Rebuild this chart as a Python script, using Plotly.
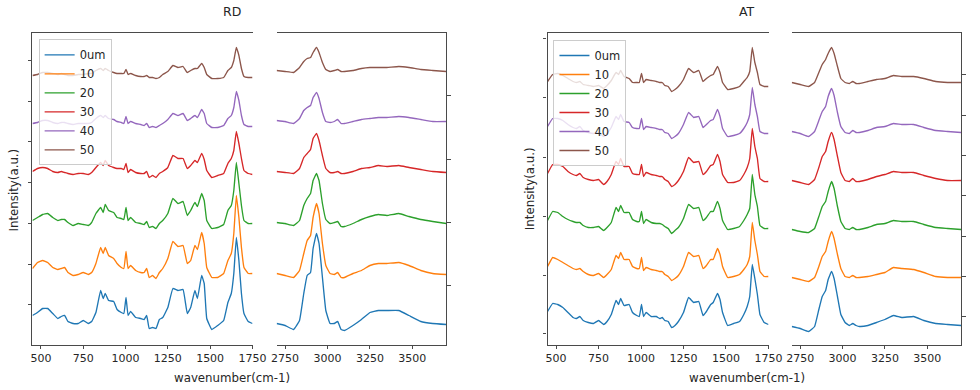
import plotly.graph_objects as go

# ---------------- data ----------------
labels = ["0um", "10", "20", "30", "40", "50"]
colors = ["#1f77b4", "#ff7f0e", "#2ca02c", "#d62728", "#9467bd", "#8c564b"]

# fingerprint region (cm-1)
wn_fp = [450, 480, 510, 540, 570, 600, 620, 640, 660, 690,
         720, 750, 780, 800, 825, 853, 868, 880, 900, 930,
         950, 975, 990, 1003, 1015, 1030, 1060, 1090, 1110, 1125,
         1140, 1160, 1180, 1200, 1220, 1250, 1280, 1310, 1340, 1365,
         1385, 1410, 1425, 1450, 1465, 1480, 1510, 1545, 1580, 1605,
         1625, 1640, 1655, 1670, 1685, 1700, 1725, 1750]
# high wavenumber region (cm-1)
wn_ch = [2700, 2750, 2800, 2835, 2860, 2880, 2900, 2915, 2935, 2950,
         2970, 2990, 3015, 3040, 3060, 3080, 3100, 3150, 3200, 3250,
         3300, 3350, 3420, 3480, 3550, 3620, 3700]

# RD, stacked intensities (a.u.)
rd_fp_0 = [29, 32, 36, 36, 31, 26, 28, 29, 23, 21, 21, 24, 21, 23, 32, 54, 46, 51, 44, 43,
           35, 32, 31, 47, 29, 33, 27, 26, 25, 29, 16, 17, 16, 25, 27, 37, 56, 54, 55, 31,
           37, 54, 46, 69, 61, 26, 15, 19, 24, 42, 51, 71, 107, 84, 51, 31, 23, 21]
rd_fp_10 = [76, 82, 84, 82, 77, 75, 76, 77, 72, 69, 70, 72, 70, 72, 81, 97, 91, 97, 89, 86,
            81, 77, 76, 93, 76, 79, 74, 72, 72, 76, 67, 69, 66, 72, 76, 86, 103, 98, 99, 81,
            84, 99, 95, 112, 101, 77, 67, 67, 71, 84, 91, 111, 149, 127, 97, 77, 71, 71]
rd_fp_20 = [124, 127, 130, 131, 127, 124, 125, 125, 122, 119, 121, 120, 119, 122, 131, 137, 132, 140, 134, 132,
            127, 126, 125, 137, 124, 127, 122, 121, 120, 123, 117, 118, 116, 121, 124, 131, 146, 141, 143, 129,
            134, 142, 138, 151, 144, 124, 116, 117, 120, 134, 139, 154, 182, 161, 139, 124, 121, 121]
rd_fp_30 = [173, 176, 177, 176, 173, 172, 173, 172, 171, 170, 171, 171, 170, 172, 177, 182, 179, 184, 179, 177,
            176, 176, 175, 181, 172, 175, 172, 171, 171, 173, 167, 169, 167, 171, 173, 177, 189, 186, 186, 176,
            179, 184, 182, 191, 185, 174, 167, 169, 171, 181, 186, 194, 213, 201, 186, 174, 171, 170]
rd_fp_40 = [221, 222, 224, 224, 222, 221, 222, 222, 221, 220, 221, 221, 221, 222, 226, 229, 227, 229, 226, 225,
            223, 222, 221, 228, 221, 223, 221, 220, 219, 221, 217, 218, 217, 219, 221, 225, 231, 229, 231, 224,
            226, 229, 227, 235, 231, 221, 217, 217, 219, 226, 229, 237, 253, 244, 229, 220, 218, 218]
rd_fp_50 = [269, 270, 272, 272, 271, 270, 271, 270, 269, 269, 270, 270, 271, 271, 274, 276, 274, 276, 274, 272,
            271, 271, 271, 275, 270, 271, 269, 268, 268, 269, 267, 267, 266, 267, 270, 273, 279, 277, 278, 272,
            274, 276, 276, 281, 277, 270, 266, 266, 267, 274, 277, 284, 297, 289, 276, 268, 267, 267]

rd_ch_0 = [21, 19, 15, 24, 51, 69, 72, 96, 111, 101, 67, 34, 21, 21, 23, 15, 14, 19, 25, 32,
           34, 34, 34, 29, 23, 21, 20]
rd_ch_10 = [71, 69, 67, 74, 91, 104, 109, 127, 141, 131, 101, 79, 71, 70, 72, 67, 67, 71, 74, 79,
            81, 81, 82, 79, 74, 71, 70]
rd_ch_20 = [122, 121, 119, 124, 139, 146, 151, 164, 171, 164, 141, 125, 121, 122, 123, 118, 118, 121, 125, 128,
            130, 129, 131, 128, 125, 123, 121]
rd_ch_30 = [173, 172, 171, 176, 187, 191, 195, 206, 211, 204, 189, 176, 172, 172, 173, 171, 171, 173, 176, 177,
            179, 178, 179, 177, 175, 173, 172]
rd_ch_40 = [224, 223, 221, 226, 234, 237, 239, 247, 252, 246, 232, 223, 222, 223, 225, 221, 221, 223, 225, 226,
            227, 227, 228, 227, 225, 223, 223]
rd_ch_50 = [274, 273, 272, 277, 283, 286, 287, 292, 297, 292, 282, 275, 273, 274, 275, 273, 273, 274, 276, 277,
            277, 277, 278, 277, 275, 274, 273]

# AT, stacked intensities (a.u.)
at_fp_0 = [33, 41, 40, 37, 32, 27, 26, 28, 24, 22, 21, 24, 20, 23, 30, 44, 40, 46, 39, 40,
           32, 29, 28, 40, 28, 32, 28, 28, 26, 27, 24, 23, 17, 19, 23, 32, 47, 42, 43, 29,
           33, 40, 42, 51, 45, 32, 19, 21, 23, 30, 38, 48, 80, 66, 50, 30, 22, 20]
at_fp_10 = [78, 87, 85, 82, 79, 76, 75, 76, 73, 70, 69, 71, 67, 70, 75, 89, 86, 92, 85, 85,
            78, 76, 76, 87, 74, 77, 75, 74, 73, 73, 70, 68, 64, 66, 69, 78, 92, 88, 89, 76,
            79, 85, 85, 96, 90, 78, 67, 68, 70, 75, 80, 88, 122, 104, 90, 73, 68, 68]
at_fp_20 = [124, 133, 132, 128, 125, 123, 122, 122, 119, 117, 117, 118, 114, 117, 122, 137, 133, 139, 132, 132,
            125, 123, 123, 133, 121, 125, 122, 121, 121, 120, 118, 116, 111, 114, 117, 126, 140, 136, 137, 124,
            127, 133, 133, 143, 136, 124, 115, 116, 118, 124, 130, 136, 170, 150, 138, 119, 116, 116]
at_fp_30 = [171, 180, 180, 178, 173, 170, 169, 171, 167, 165, 164, 165, 160, 163, 170, 183, 180, 186, 178, 178,
            171, 170, 170, 180, 168, 172, 170, 169, 168, 168, 165, 163, 158, 160, 164, 173, 187, 182, 183, 170,
            173, 179, 180, 190, 183, 170, 162, 162, 164, 170, 177, 186, 216, 198, 186, 166, 163, 163]
at_fp_40 = [218, 226, 226, 224, 220, 217, 216, 218, 214, 212, 211, 212, 208, 211, 217, 228, 225, 230, 223, 222,
            217, 216, 216, 226, 215, 218, 217, 216, 215, 215, 212, 211, 206, 208, 211, 220, 232, 227, 228, 217,
            220, 224, 225, 235, 228, 216, 208, 209, 211, 216, 222, 230, 257, 240, 228, 213, 211, 211]
at_fp_50 = [263, 270, 271, 269, 266, 263, 262, 263, 260, 259, 258, 259, 256, 259, 264, 272, 270, 274, 268, 266,
            262, 262, 262, 271, 262, 265, 264, 263, 262, 262, 259, 258, 253, 255, 258, 265, 276, 272, 274, 263,
            266, 269, 270, 278, 272, 262, 255, 256, 258, 263, 267, 273, 297, 282, 272, 260, 258, 258]

at_ch_0 = [18, 16, 13, 18, 35, 48, 54, 65, 73, 66, 48, 30, 22, 19, 21, 19, 18, 19, 22, 25,
           29, 27, 28, 24, 21, 20, 19]
at_ch_10 = [67, 65, 63, 67, 78, 88, 93, 103, 113, 106, 90, 76, 68, 67, 69, 67, 67, 68, 70, 72,
            77, 76, 75, 72, 68, 67, 67]
at_ch_20 = [115, 113, 112, 116, 128, 138, 143, 153, 163, 156, 138, 123, 116, 115, 117, 115, 115, 117, 120, 121,
            124, 123, 123, 120, 117, 116, 115]
at_ch_30 = [164, 162, 160, 165, 177, 188, 193, 203, 212, 205, 188, 172, 164, 163, 166, 163, 163, 165, 168, 170,
            173, 172, 172, 169, 166, 164, 164]
at_ch_40 = [213, 211, 208, 213, 224, 233, 238, 248, 256, 249, 232, 218, 212, 211, 214, 212, 212, 214, 217, 218,
            221, 220, 220, 217, 214, 213, 212]
at_ch_50 = [262, 260, 258, 262, 272, 280, 285, 291, 297, 291, 278, 266, 262, 261, 263, 261, 261, 263, 265, 266,
            269, 268, 268, 266, 263, 262, 262]

# tick marks (unlabelled, as in the original)
x_ticks_fp = [500, 750, 1000, 1250, 1500, 1750]
x_ticks_ch = [2750, 3000, 3250, 3500]
rd_fp_yticks = [39.7, 80.3, 121, 161.7, 202.7, 243.3, 284]
rd_ch_yticks = [59, 122, 185.3, 248.7]
at_fp_yticks = [10.7, 69.3, 128, 187.3, 246.7, 306]
at_ch_yticks = [28, 68, 108.3, 149, 189.3, 229.3, 270]

rd_fp = [rd_fp_0, rd_fp_10, rd_fp_20, rd_fp_30, rd_fp_40, rd_fp_50]
rd_ch = [rd_ch_0, rd_ch_10, rd_ch_20, rd_ch_30, rd_ch_40, rd_ch_50]
at_fp = [at_fp_0, at_fp_10, at_fp_20, at_fp_30, at_fp_40, at_fp_50]
at_ch = [at_ch_0, at_ch_10, at_ch_20, at_ch_30, at_ch_40, at_ch_50]

# ---------------- figure ----------------
W, H = 980, 390
FONT = "DejaVu Sans"
TXT = "#262626"
SPINE = "#4a4a4a"


def px(x):
    return x / W


def py(y):
    return 1 - y / H


fig = go.Figure()
LW = 1.35
LINE = dict(width=LW, shape="spline", smoothing=0.3)
for i, lab in enumerate(labels):
    fig.add_trace(go.Scatter(x=wn_fp, y=rd_fp[i], mode="lines", name=lab,
                             line=dict(LINE, color=colors[i]),
                             xaxis="x", yaxis="y", legend="legend"))
for i, lab in enumerate(labels):
    fig.add_trace(go.Scatter(x=wn_ch, y=rd_ch[i], mode="lines", name=lab, showlegend=False,
                             line=dict(LINE, color=colors[i]),
                             xaxis="x2", yaxis="y2"))
for i, lab in enumerate(labels):
    fig.add_trace(go.Scatter(x=wn_fp, y=at_fp[i], mode="lines", name=lab,
                             line=dict(LINE, color=colors[i]),
                             xaxis="x3", yaxis="y3", legend="legend2"))
for i, lab in enumerate(labels):
    fig.add_trace(go.Scatter(x=wn_ch, y=at_ch[i], mode="lines", name=lab, showlegend=False,
                             line=dict(LINE, color=colors[i]),
                             xaxis="x4", yaxis="y4"))

y_dom = [py(344.5), py(33.2)]
y_rng = [0, 311.3]

common_x = dict(showgrid=False, zeroline=False, showline=True, mirror=True, linecolor=SPINE,
                linewidth=1.4, ticks="outside", ticklen=3.5, tickwidth=1.2, tickcolor=SPINE,
                tickfont=dict(family=FONT, size=11, color=TXT))
common_y = dict(showgrid=False, zeroline=False, showline=True, mirror=False, linecolor=SPINE,
                linewidth=1.4, ticks="outside", ticklen=3.5, tickwidth=1.2, tickcolor=SPINE,
                showticklabels=False, range=y_rng, domain=y_dom)

LEG = dict(xanchor="left", yanchor="top", bgcolor="rgba(255,255,255,0.8)",
           bordercolor="#cccccc", borderwidth=1, tracegroupgap=0,
           font=dict(family=FONT, size=11.5, color=TXT), itemwidth=30)

fig.update_layout(
    width=W, height=H, margin=dict(l=0, r=0, t=0, b=0),
    paper_bgcolor="white", plot_bgcolor="white",
    font=dict(family=FONT, color=TXT),
    xaxis=dict(common_x, domain=[px(28), px(252.5)], range=[450, 1751], tickvals=x_ticks_fp, anchor="y"),
    yaxis=dict(common_y, anchor="x", tickvals=rd_fp_yticks, side="left"),
    xaxis2=dict(common_x, domain=[px(277), px(450)], range=[2700, 3700], tickvals=x_ticks_ch, anchor="y2"),
    yaxis2=dict(common_y, anchor="x2", tickvals=rd_ch_yticks, side="right"),
    xaxis3=dict(common_x, domain=[px(553.3), px(778.7)], range=[450, 1751], tickvals=x_ticks_fp, anchor="y3"),
    yaxis3=dict(common_y, anchor="x3", tickvals=at_fp_yticks, side="left"),
    xaxis4=dict(common_x, domain=[px(802.3), px(975)], range=[2700, 3700], tickvals=x_ticks_ch, anchor="y4"),
    yaxis4=dict(common_y, anchor="x4", tickvals=at_ch_yticks, side="right"),
    legend=dict(LEG, x=px(34.3), y=py(39.3)),
    legend2=dict(LEG, x=px(559.3), y=py(40)),
)

ann = []
for txt, x, y in [("RD", 231.7, 11), ("AT", 756.7, 11)]:
    ann.append(dict(text=txt, x=px(x), y=py(y), xref="paper", yref="paper", showarrow=False,
                    xanchor="center", yanchor="middle", font=dict(family=FONT, size=12.5, color=TXT)))
for x in (231.5, 756.7):
    ann.append(dict(text="wavenumber(cm-1)", x=px(x), y=py(377.5), xref="paper", yref="paper",
                    showarrow=False, xanchor="center", yanchor="middle",
                    font=dict(family=FONT, size=11.8, color=TXT)))
for x, y in ((8.7, 190), (535, 188.5)):
    ann.append(dict(text="Intensity(a.u.)", x=px(x), y=py(y), xref="paper", yref="paper",
                    showarrow=False, textangle=-90, xanchor="center", yanchor="middle",
                    font=dict(family=FONT, size=11.8, color=TXT)))
fig.update_layout(annotations=ann)

fig.write_html("out.html", config={"displayModeBar": False},
               post_script="document.body.style.margin='0';document.body.style.overflow='hidden';")
